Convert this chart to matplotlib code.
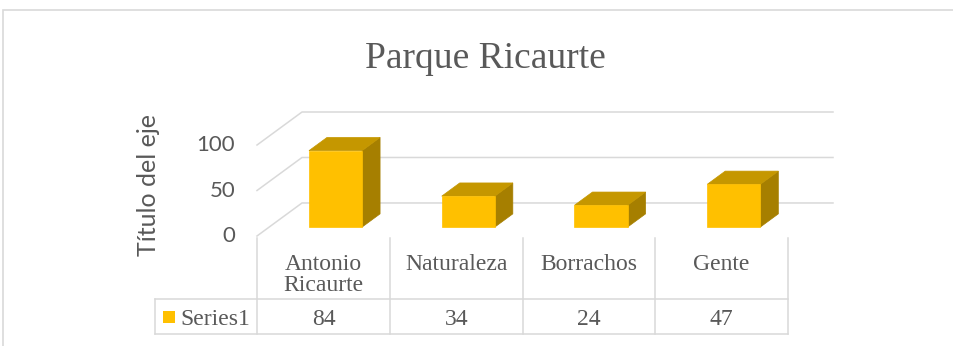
import matplotlib.pyplot as plt
from matplotlib.patches import Polygon, Rectangle

# Datos
categorias = ["Antonio\nRicaurte", "Naturaleza", "Borrachos", "Gente"]
valores = [84, 34, 24, 47]
serie = "Series1"
marcas_y = [0, 50, 100]

# Colores y estilo
GRIS_TEXTO = "#595959"
GRIS_LINEA = "#D9D9D9"
FRENTE = "#FFC000"
TAPA = "#C59700"
LADO = "#A67F00"

# Perspectiva: desplazamiento de la pared del fondo (en unidades de datos)
DX, DY = 0.339, 36.3
F0, F1 = 0.27, 0.67   # profundidad que ocupa cada barra
ANCHO = 0.4

W, H = 954, 346
fig = plt.figure(figsize=(W / 100, H / 100), dpi=100)

# Marco del grafico
fig.patches.append(Rectangle((3.5 / W, -0.1), 1.2, 1 - 9.5 / H + 0.1,
                             transform=fig.transFigure, fill=False,
                             edgecolor=GRIS_LINEA, linewidth=1.2))

fig.text(485 / W, 1 - 68 / H, "Parque Ricaurte", ha="center", va="baseline",
         fontsize=27, family="Liberation Serif", color=GRIS_TEXTO)

n = len(valores)
ax = fig.add_axes([257 / W, 1 - 236 / H, 576 / W, 124 / H])
ax.set_xlim(0, n + DX)
ax.set_ylim(0, 100 + DY)
ax.axis("off")

# Lineas de division en perspectiva
for v in marcas_y:
    ax.plot([0, DX, n + DX], [v, v + DY, v + DY], color=GRIS_LINEA,
            linewidth=1.1, clip_on=False, zorder=1)
    ax.text(-0.165, v, str(v), ha="right", va="center", fontsize=16,
            family="Lato", color=GRIS_TEXTO)

fig.text(148 / W, 1 - 185 / H, "Título del eje", rotation=90, ha="center",
         va="center", fontsize=18, family="Lato", color=GRIS_TEXTO)

# Barras 3D
bdx, bdy = (F1 - F0) * DX, (F1 - F0) * DY
for i, v in enumerate(valores):
    x0 = i + 0.5 - ANCHO / 2 + F0 * DX
    x1 = x0 + ANCHO
    y0 = F0 * DY
    frente = [(x0, y0), (x1, y0), (x1, y0 + v), (x0, y0 + v)]
    tapa = [(x0, y0 + v), (x1, y0 + v), (x1 + bdx, y0 + v + bdy), (x0 + bdx, y0 + v + bdy)]
    lado = [(x1, y0), (x1 + bdx, y0 + bdy), (x1 + bdx, y0 + bdy + v), (x1, y0 + v)]
    for pts, c in [(lado, LADO), (tapa, TAPA), (frente, FRENTE)]:
        ax.add_patch(Polygon(pts, closed=True, facecolor=c, edgecolor=c,
                             linewidth=0.5, clip_on=False, zorder=3))

# Tabla de datos
tx0 = -0.77
tab = fig.add_axes([155 / W, 1 - 334 / H, 633 / W, 98 / H])
tab.set_xlim(tx0, n)
tab.set_ylim(0, 1)
tab.axis("off")
fila = 35 / 98
for i in range(n + 1):
    tab.plot([i, i], [0, 0.98], color=GRIS_LINEA, linewidth=1.1, clip_on=False)
tab.plot([tx0, n], [0, 0], color=GRIS_LINEA, linewidth=1.1, clip_on=False)
tab.plot([tx0, n], [fila, fila], color=GRIS_LINEA, linewidth=1.1, clip_on=False)
tab.plot([tx0, tx0], [0, fila], color=GRIS_LINEA, linewidth=1.1, clip_on=False)

for i, (cat, v) in enumerate(zip(categorias, valores)):
    tab.text(i + 0.5, (334 - 254) / 98, cat, ha="center", va="top", fontsize=17,
             family="Liberation Serif", color=GRIS_TEXTO, linespacing=1.0)
    tab.text(i + 0.5, fila / 2 - 0.03, str(v), ha="center", va="center", fontsize=17,
             family="Liberation Serif", color=GRIS_TEXTO)

# Leyenda dentro de la tabla
tab.add_patch(Rectangle((tx0 + 0.06, fila / 2 - 0.065), 0.09, 0.125,
                        facecolor=FRENTE, edgecolor="none", clip_on=False))
tab.text(tx0 + 0.19, fila / 2 - 0.03, serie, ha="left", va="center", fontsize=17,
         family="Liberation Serif", color=GRIS_TEXTO)

fig.savefig("out.png", dpi=100)
